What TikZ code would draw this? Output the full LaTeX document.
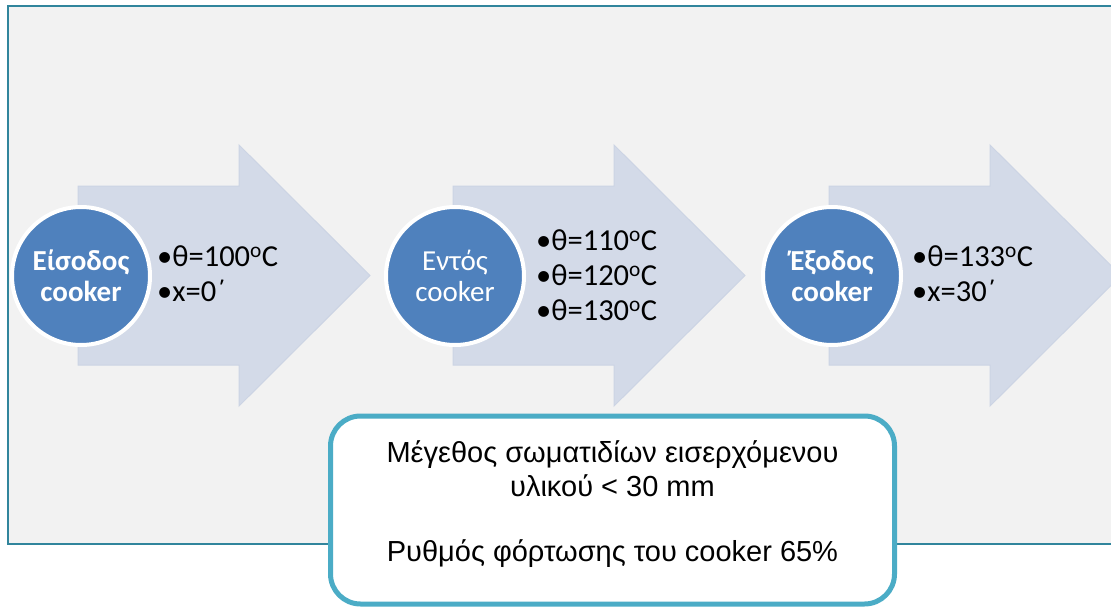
\documentclass[tikz,border=0pt]{standalone}
\usepackage{fontspec}
\setmainfont{Carlito}
\newfontfamily\boxfont{Liberation Sans}
\definecolor{panelfill}{HTML}{F2F2F2}
\definecolor{panelline}{HTML}{31859C}
\definecolor{arrowfill}{HTML}{D3DAE8}
\definecolor{arrowline}{HTML}{CCD4E4}
\definecolor{circfill}{HTML}{4F81BD}
\definecolor{boxline}{HTML}{4BACC6}
\tikzset{
  panel/.style={fill=panelfill, draw=panelline, line width=2pt},
  bigarrow/.style={fill=arrowfill, draw=arrowline, line width=1pt},
  stage/.style={circle, fill=circfill, draw=white, line width=4pt, minimum size=138pt,
    inner sep=0pt, text=white, align=center, font=\fontsize{29}{31}\selectfont},
  stagebold/.style={stage, font=\bfseries\fontsize{29}{31}\selectfont},
  bullets/.style={anchor=west, align=left, inner sep=0pt, text=black,
    font=\fontsize{30.5}{35}\selectfont},
  infobox/.style={draw=boxline, fill=white, line width=5pt, rounded corners=30pt,
    minimum width=564pt, minimum height=188pt, inner sep=0pt},
  infotext/.style={align=center, inner sep=0pt, text=black,
    font=\boxfont\fontsize{29}{34}\selectfont}
}
\begin{document}
\begin{tikzpicture}[x=1pt,y=-1pt]
\useasboundingbox (0,0) rectangle (1111,607);
\clip (0,0) rectangle (1111,607);
\draw[panel] (8,6) rectangle (1130,544);
\foreach \x in {78,453,829}{
  \draw[bigarrow] (\x,186) -- (\x+161,186) -- (\x+161,145) -- (\x+292,275.5)
    -- (\x+161,406) -- (\x+161,365) -- (\x,365) -- cycle;
}
\node[stagebold] (s1) at (81,276) {Είσοδος\\cooker};
\node[stage] (s2) at (455,276) {Εντός\\cooker};
\node[stagebold] (s3) at (832,276) {Έξοδος\\cooker};
\node[bullets] (b1) at (157,274) {•θ=100\textsuperscript{o}C\\•x=0΄};
\node[bullets] (b2) at (536,275) {•θ=110\textsuperscript{o}C\\•θ=120\textsuperscript{o}C\\•θ=130\textsuperscript{o}C};
\node[bullets] (b3) at (912,274) {•θ=133\textsuperscript{o}C\\•x=30΄};
\node[infobox] (box) at (612.5,510) {};
\node[infotext, anchor=north] (info) at (612.5,440) {Μέγεθος σωματιδίων εισερχόμενου\\υλικού < 30 mm\\[31pt]Ρυθμός φόρτωσης του cooker 65\%};
\end{tikzpicture}
\end{document}
